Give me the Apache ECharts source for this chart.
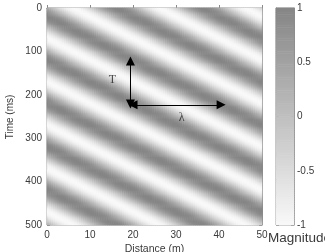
<!DOCTYPE html>
<html><head><meta charset="utf-8">
<script src="https://cdn.jsdelivr.net/npm/echarts@6/dist/echarts.min.js"></script>
<style>html,body{margin:0;padding:0;background:#fff}#c{width:325px;height:252px}</style>
</head><body><div id="c"></div>
<script>
// Magnitude read along the left edge (x = 0) over one period, t = 0, 2.5, ..., 97.5 ms
const edgeProfile = [0.31,0.45,0.59,0.71,0.81,0.89,0.95,0.99,1.00,0.99,0.95,0.89,0.81,0.71,0.59,0.45,
  0.31,0.16,0.00,-0.16,-0.31,-0.45,-0.59,-0.71,-0.81,-0.89,-0.95,-0.99,-1.00,-0.99,-0.95,-0.89,
  -0.81,-0.71,-0.59,-0.45,-0.31,-0.16,0.00,0.16];
// stripes shift by one profile step (2.5 ms) for every 0.5 m of distance
const distanceCells = []; for (let i = 0; i < 100; i++) distanceCells.push((0.25 + 0.5 * i).toFixed(2));
const timeCells = []; for (let j = 0; j < 200; j++) timeCells.push((1.25 + 2.5 * j).toFixed(2));
const xTicks = [0, 10, 20, 30, 40, 50];
const yTicks = [0, 100, 200, 300, 400, 500];
const colorbarTicks = [-1, -0.5, 0, 0.5, 1];
const colorbarLevels = []; for (let k = 0; k < 100; k++) colorbarLevels.push((-0.99 + 0.02 * k).toFixed(2));
const periodArrow = [[19.4, 122], [19.4, 221]];
const wavelengthArrow = [[20.0, 223], [40.5, 223]];
const annotationText = ['T', 'λ'];
const annotationX = [15.2, 31.3];
const annotationY = [166, 252];

const cells = [];
for (let i = 0; i < distanceCells.length; i++) {
  for (let j = 0; j < timeCells.length; j++) {
    const n = edgeProfile.length;
    cells.push([i, j, edgeProfile[(((j - i) % n) + n) % n]]);
  }
}
const barCells = colorbarLevels.map((v, k) => [0, k, +v]);

const axisCol = '#8a8a8a', txt = '#3a3a3a', FONT = 'Liberation Sans';
const chart = echarts.init(document.getElementById('c'), null, {renderer: 'canvas'});
function valAxis(extra) {
  return Object.assign({
    type: 'value', splitLine: {show: false},
    axisLine: {show: true, lineStyle: {color: axisCol, width: 1}},
    axisTick: {show: true, inside: true, length: 3, lineStyle: {color: axisCol}},
    axisLabel: {show: true, color: txt, fontSize: 10, fontFamily: FONT}
  }, extra);
}
chart.setOption({
  animation: false,
  grid: [
    {left: 47, top: 8, width: 215, height: 217, show: true, borderColor: axisCol, borderWidth: 1},
    {left: 276, top: 8, width: 18, height: 217, show: true, borderColor: axisCol, borderWidth: 1}
  ],
  xAxis: [
    {type: 'category', gridIndex: 0, data: distanceCells, show: false},
    valAxis({gridIndex: 0, min: 0, max: 50, interval: 10, position: 'bottom', axisLabel: {color: txt, fontSize: 10, fontFamily: FONT, margin: 5}}),
    valAxis({gridIndex: 0, min: 0, max: 50, interval: 10, position: 'top', axisLabel: {show: false}}),
    {type: 'category', gridIndex: 1, data: ['c'], show: false}
  ],
  yAxis: [
    {type: 'category', gridIndex: 0, data: timeCells, inverse: true, show: false},
    valAxis({gridIndex: 0, min: 0, max: 500, interval: 100, inverse: true, position: 'left', axisLabel: {color: txt, fontSize: 10, fontFamily: FONT, margin: 5}}),
    valAxis({gridIndex: 0, min: 0, max: 500, interval: 100, inverse: true, position: 'right', axisLabel: {show: false}}),
    {type: 'category', gridIndex: 1, data: colorbarLevels, show: false},
    valAxis({gridIndex: 1, min: -1, max: 1, interval: 0.5, position: 'right', axisLabel: {color: txt, fontSize: 10, fontFamily: FONT, margin: 3}}),
    valAxis({gridIndex: 1, min: -1, max: 1, interval: 0.5, position: 'left', axisLabel: {show: false}})
  ],
  visualMap: {
    type: 'continuous', show: false, min: -1, max: 1, seriesIndex: [0, 1],
    inRange: {color: ['#f9f9f9', '#858585']}
  },
  series: [
    {type: 'heatmap', xAxisIndex: 0, yAxisIndex: 0, data: cells, progressive: 0, z: 1},
    {type: 'heatmap', xAxisIndex: 3, yAxisIndex: 3, data: barCells, progressive: 0, z: 1},
    {type: 'lines', coordinateSystem: 'cartesian2d', xAxisIndex: 1, yAxisIndex: 1, z: 5,
      symbol: ['triangle', 'triangle'], symbolSize: 9,
      lineStyle: {color: '#000', width: 1, opacity: 1},
      itemStyle: {color: '#000'},
      data: [{coords: periodArrow}, {coords: wavelengthArrow}]},
    {type: 'scatter', xAxisIndex: 1, yAxisIndex: 1, symbolSize: 0, z: 6,
      data: annotationText.map((t, k) => ({value: [annotationX[k], annotationY[k]], name: t})),
      label: {show: true, position: 'inside', formatter: p => p.name, color: '#222', fontSize: 12, fontFamily: 'Liberation Serif'}}
  ],
  graphic: [
    {type: 'text', x: 10, y: 117, rotation: Math.PI / 2, style: {text: 'Time (ms)', fill: txt, font: '10px "Liberation Sans"', textAlign: 'center', textVerticalAlign: 'middle'}},
    {type: 'text', x: 154.5, y: 249, style: {text: 'Distance (m)', fill: txt, font: '10.5px "Liberation Sans"', textAlign: 'center', textVerticalAlign: 'middle'}},
    {type: 'text', x: 268, y: 238, style: {text: 'Magnitude', fill: txt, font: '13.5px "Liberation Sans"', textAlign: 'left', textVerticalAlign: 'middle'}}
  ]
});
</script></body></html>
